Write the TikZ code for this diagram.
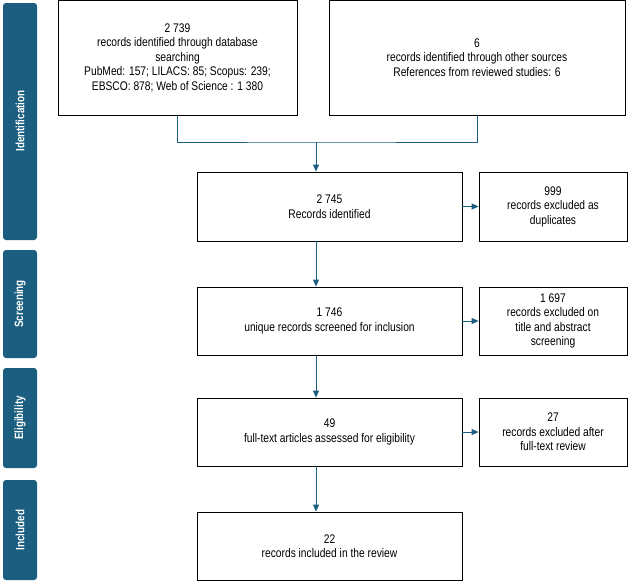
\documentclass[tikz,border=0pt]{standalone}
\usepackage{fontspec}
\setmainfont{Liberation Sans}[FakeStretch=0.82]
\usetikzlibrary{positioning,arrows.meta}
\definecolor{prismablue}{HTML}{1B5E80}
\tikzset{
  box/.style={draw=black,line width=0.8pt,align=center,font=\fontsize{12.5}{14.5}\selectfont,inner sep=2pt},
  stage/.style={fill=prismablue,rounded corners=3pt},
  slabel/.style={rotate=90,text=white,font=\bfseries\fontsize{12}{14}\selectfont},
  flow/.style={draw=prismablue,line width=0.9pt},
  arr/.style={flow,-{Triangle[length=7pt,width=6pt]}}
}
\begin{document}
\begin{tikzpicture}[x=1pt,y=-1pt]
      \useasboundingbox (0,0) rectangle (628,582);
      % stage bars
      \fill[stage] (3,3) rectangle (37,240);
      \fill[stage] (3,250) rectangle (37,358);
      \fill[stage] (3,368) rectangle (37,468);
      \fill[stage] (3,480) rectangle (37,580);
      \node[slabel] (sid) at (20,121) {Identification};
      \node[slabel] (ssc) at (20,304) {Screening};
      \node[slabel] (sel) at (20,418) {Eligibility};
      \node[slabel] (sin) at (20,530) {Included};
      % boxes
      \node[box,minimum width=239,minimum height=115] (db) at (177.5,57.5) {2 739\\records identified through database\\searching\\PubMed: 157; LILACS: 85; Scopus: 239;\\EBSCO: 878; Web of Science : 1 380};
      \node[box,minimum width=296,minimum height=115] (other) at (477,57.5) {6\\records identified through other sources\\References from reviewed studies: 6};
      \node[box,minimum width=265,minimum height=69] (ident) at (329.5,206.5) {2 745\\Records identified};
      \node[box,minimum width=148,minimum height=69] (dup) at (553,206.5) {999\\records excluded as\\duplicates};
      \node[box,minimum width=265,minimum height=68] (screen) at (329.5,321) {1 746\\unique records screened for inclusion};
      \node[box,minimum width=148,minimum height=68] (exscr) at (553,321) {1 697\\records excluded on\\title and abstract\\screening};
      \node[box,minimum width=265,minimum height=68] (elig) at (329.5,432) {49\\full-text articles assessed for eligibility};
      \node[box,minimum width=148,minimum height=68] (exel) at (553,432) {27\\records excluded after\\full-text review};
      \node[box,minimum width=265,minimum height=68] (incl) at (329.5,546) {22\\records included in the review};
      % connectors
      \coordinate (join) at (316,142);
      \draw[flow] (db.south) |- (join) -| (other.south);
      \draw[arr] (join) -- (join |- ident.north);
      \draw[arr] (ident.east) -- (dup.west);
      \draw[arr] (ident.south -| join) -- (join |- screen.north);
      \draw[arr] (screen.east) -- (exscr.west);
      \draw[arr] (screen.south -| join) -- (join |- elig.north);
      \draw[arr] (elig.east) -- (exel.west);
      \draw[arr] (elig.south -| join) -- (join |- incl.north);
    \end{tikzpicture}
\end{document}
